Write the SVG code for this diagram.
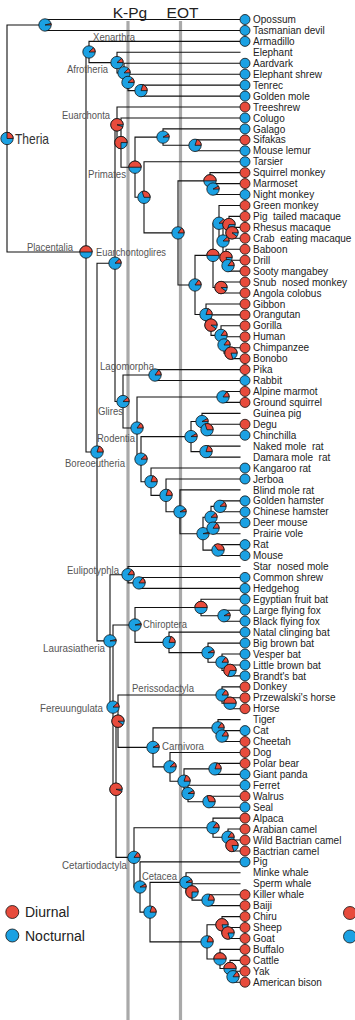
<svg xmlns="http://www.w3.org/2000/svg" width="355" height="1020" viewBox="0 0 355 1020">
<style>
.e{stroke:#a9a9a9;stroke-width:3.2;fill:none}
.c{fill:none;stroke:#111;stroke-width:1.1;stroke-linecap:square}
.pb{fill:#1ba1e3;stroke:#111;stroke-width:.8}
.pr{fill:#e74b3c;stroke:#111;stroke-width:.8;stroke-linejoin:round}
.r{fill:#e74b3c;stroke:#111;stroke-width:.8}
.b{fill:#1ba1e3;stroke:#111;stroke-width:.8}
text{font-family:"Liberation Sans",Arial,sans-serif}
.tips text{font-size:10px;fill:#222}
.cl{font-size:11px;fill:#555}
.big{font-size:15.5px;fill:#222}
.leg{font-size:14px;fill:#222}
</style>
<defs>
<g id="p04"><circle class="pb" r="6.2"/><path class="pr" d="M0 0H6.2A6.2 6.2 0 0 0 6.005 -1.542Z"/></g>
<g id="p08"><circle class="pb" r="6.2"/><path class="pr" d="M0 0H6.2A6.2 6.2 0 0 0 5.433 -2.987Z"/></g>
<g id="p12"><circle class="pb" r="6.2"/><path class="pr" d="M0 0H6.2A6.2 6.2 0 0 0 4.52 -4.244Z"/></g>
<g id="p15"><circle class="pb" r="6.2"/><path class="pr" d="M0 0H6.2A6.2 6.2 0 0 0 3.644 -5.016Z"/></g>
<g id="p20"><circle class="pb" r="6.2"/><path class="pr" d="M0 0H6.2A6.2 6.2 0 0 0 1.916 -5.897Z"/></g>
<g id="p25"><circle class="pb" r="6.2"/><path class="pr" d="M0 0H6.2A6.2 6.2 0 0 0 0 -6.2Z"/></g>
<g id="p30"><circle class="pb" r="6.2"/><path class="pr" d="M0 0H6.2A6.2 6.2 0 0 0 -1.916 -5.897Z"/></g>
<g id="p35"><circle class="pb" r="6.2"/><path class="pr" d="M0 0H6.2A6.2 6.2 0 0 0 -3.644 -5.016Z"/></g>
<g id="p50"><circle class="pb" r="6.2"/><path class="pr" d="M0 0H6.2A6.2 6.2 0 0 0 -6.2 0Z"/></g>
<g id="p70"><circle class="pb" r="6.2"/><path class="pr" d="M0 0H6.2A6.2 6.2 0 1 0 -1.916 5.897Z"/></g>
<g id="p75"><circle class="pb" r="6.2"/><path class="pr" d="M0 0H6.2A6.2 6.2 0 1 0 0 6.2Z"/></g>
<g id="p80"><circle class="pb" r="6.2"/><path class="pr" d="M0 0H6.2A6.2 6.2 0 1 0 1.916 5.897Z"/></g>
<g id="p90"><circle class="pb" r="6.2"/><path class="pr" d="M0 0H6.2A6.2 6.2 0 1 0 5.016 3.644Z"/></g>
<g id="p95"><circle class="pb" r="6.2"/><path class="pr" d="M0 0H6.2A6.2 6.2 0 1 0 5.897 1.916Z"/></g>
</defs>
<rect width="355" height="1020" fill="#fff"/>
<g id="epochs">
<line class="e" x1="128" y1="21" x2="128" y2="1020"/>
<line class="e" x1="180.5" y1="21" x2="180.5" y2="1020"/>
<text class="big" x="130" y="18" text-anchor="middle">K-Pg</text>
<text class="big" x="182.5" y="18" text-anchor="middle">EOT</text>
</g>
<g id="connectors">
<path class="c" d="M7 24.97V252.01M7 24.97H45M7 252.01H86
M45 19.5V30.44M45 19.5H240M45 30.44H240
M86 51.98V452.05M86 51.98H89M86 452.05H97
M89 41.38V62.58M89 41.38H240M89 62.58H117
M117 52.32V72.84M117 52.32H240M117 72.84H124
M124 63.26V82.41M124 63.26H240M124 82.41H128
M128 74.2V90.61M128 74.2H240M128 90.61H141
M141 85.14V96.08M141 85.14H240M141 96.08H240
M97 263.18V640.92M97 263.18H115M97 640.92H110
M115 124.81V401.55M115 124.81H117M115 401.55H123
M117 107.02V142.59M117 107.02H240M117 142.59H121
M121 117.96V167.22M121 117.96H240M121 167.22H135
M135 137.11V197.32M135 137.11H163M135 197.32H144
M163 128.9V145.31M163 128.9H240M163 145.31H195
M195 139.84V150.78M195 139.84H240M195 150.78H240
M144 161.72V232.92M144 161.72H240M144 232.92H178
M178 180.87V284.97M178 180.87H210M178 284.97H195
M210 172.66V189.07M210 172.66H240M210 189.07H213
M213 183.6V194.54M213 183.6H240M213 194.54H240
M195 255.39V314.54M195 255.39H213M195 314.54H206
M213 223.26V287.53M213 223.26H219M213 287.53H221
M219 205.48V241.03M219 205.48H240M219 241.03H223
M223 224.62V257.45M223 224.62H229M223 257.45H226
M229 216.42V232.83M229 216.42H240M229 232.83H232
M232 227.36V238.3M232 227.36H240M232 238.3H240
M226 249.24V265.65M226 249.24H240M226 265.65H228
M228 260.18V271.12M228 260.18H240M228 271.12H240
M221 282.06V293M221 282.06H240M221 293H240
M206 303.94V325.14M206 303.94H240M206 325.14H211
M211 314.88V335.39M211 314.88H240M211 335.39H221
M221 325.82V344.97M221 325.82H240M221 344.97H224
M224 336.76V353.17M224 336.76H240M224 353.17H231
M231 347.7V358.64M231 347.7H240M231 358.64H240
M123 375.05V428.05M123 375.05H155M123 428.05H137
M155 369.58V380.52M155 369.58H240M155 380.52H240
M137 396.93V459.16M137 396.93H223M137 459.16H141
M223 391.46V402.4M223 391.46H240M223 402.4H240
M141 436.59V481.72M141 436.59H191M141 481.72H151
M191 421.55V451.63M191 421.55H202M191 451.63H206
M202 413.34V429.75M202 413.34H240M202 429.75H207
M207 424.28V435.22M207 424.28H240M207 435.22H240
M206 446.16V457.1M206 446.16H240M206 457.1H240
M151 468.04V495.39M151 468.04H240M151 495.39H166
M166 478.98V511.8M166 478.98H240M166 511.8H180
M180 489.92V533.68M180 489.92H240M180 533.68H203
M203 517.27V550.09M203 517.27H211M203 550.09H218
M211 506.33V528.21M211 506.33H220M211 528.21H213
M220 500.86V511.8M220 500.86H240M220 511.8H240
M213 522.74V533.68M213 522.74H240M213 533.68H240
M218 544.62V555.56M218 544.62H240M218 555.56H240
M110 574.71V707.12M110 574.71H128M110 707.12H113
M128 566.5V582.91M128 566.5H240M128 582.91H139
M139 577.44V588.38M139 577.44H240M139 588.38H240
M113 624.97V789.28M113 624.97H135M113 789.28H116
M135 607.53V642.4M135 607.53H201M135 642.4H169
M201 599.32V615.73M201 599.32H240M201 615.73H224
M224 610.26V621.2M224 610.26H240M224 621.2H240
M169 632.14V652.66M169 632.14H240M169 652.66H208
M208 643.08V662.23M208 643.08H240M208 662.23H222
M222 654.02V670.43M222 654.02H240M222 670.43H230
M230 664.96V675.9M230 664.96H240M230 675.9H240
M116 721.2V857.35M116 721.2H118M116 857.35H134
M118 695.05V747.36M118 695.05H222M118 747.36H153
M222 686.84V703.25M222 686.84H240M222 703.25H230
M230 697.78V708.72M230 697.78H240M230 708.72H240
M153 727.87V766.84M153 727.87H218M153 766.84H170
M218 719.66V736.07M218 719.66H240M218 736.07H222
M222 730.6V741.54M222 730.6H240M222 741.54H240
M170 752.48V781.2M170 752.48H240M170 781.2H184
M184 768.89V793.51M184 768.89H215M184 793.51H188
M215 763.42V774.36M215 763.42H240M215 774.36H240
M188 785.3V801.71M188 785.3H240M188 801.71H209
M209 796.24V807.18M209 796.24H240M209 807.18H240
M134 827.69V887M134 827.69H213M134 887H140
M213 818.12V837.27M213 818.12H240M213 837.27H228
M228 829.06V845.47M228 829.06H240M228 845.47H232
M232 840V850.94M232 840H240M232 850.94H240
M140 861.88V912.13M140 861.88H240M140 912.13H150
M150 882.39V941.88M150 882.39H186M150 941.88H207
M186 872.82V891.97M186 872.82H240M186 891.97H192
M192 883.76V900.17M192 883.76H240M192 900.17H208
M208 894.7V905.64M208 894.7H240M208 905.64H240
M207 924.78V958.97M207 924.78H222M207 958.97H220
M222 916.58V932.99M222 916.58H240M222 932.99H228
M228 927.52V938.46M228 927.52H240M228 938.46H240
M220 949.4V968.55M220 949.4H240M220 968.55H230
M230 960.34V976.75M230 960.34H240M230 976.75H233
M233 971.28V982.22M233 971.28H240M233 982.22H240"/>
</g>
<g id="nodes">
<g id="n-theria"><use href="#p25" x="7" y="138.49"/><text x="15" y="144" font-size="15" fill="#333" textLength="34" lengthAdjust="spacingAndGlyphs">Theria</text></g>
<g id="n-marsupialia"><use href="#p04" x="45" y="24.97"/></g>
<g id="n-placentalia"><use href="#p50" x="86" y="252.01"/><text class="cl" x="27" y="251" textLength="46" lengthAdjust="spacingAndGlyphs">Placentalia</text></g>
<g id="n-atlantogenata"><use href="#p12" x="89" y="51.98"/><text class="cl" x="93" y="40.5" textLength="42" lengthAdjust="spacingAndGlyphs">Xenarthra</text></g>
<g id="n-afrotheria"><use href="#p12" x="117" y="62.58"/><text class="cl" x="67" y="73" textLength="41" lengthAdjust="spacingAndGlyphs">Afrotheria</text></g>
<g id="n-afro2"><use href="#p12" x="124" y="72.84"/></g>
<g id="n-afro3"><use href="#p12" x="128" y="82.41"/></g>
<g id="n-afro4"><use href="#p20" x="141" y="90.61"/></g>
<g id="n-boreoeutheria"><use href="#p20" x="97" y="452.05"/><text class="cl" x="65" y="466.5" textLength="60" lengthAdjust="spacingAndGlyphs">Boreoeutheria</text></g>
<g id="n-euarchontoglires"><use href="#p12" x="115" y="263.18"/><text class="cl" x="96" y="256" textLength="70" lengthAdjust="spacingAndGlyphs">Euarchontoglires</text></g>
<g id="n-euarchonta"><use href="#p95" x="117" y="124.81"/><text class="cl" x="62" y="119" textLength="48" lengthAdjust="spacingAndGlyphs">Euarchonta</text></g>
<g id="n-primatomorpha"><use href="#p75" x="121" y="142.59"/></g>
<g id="n-primates"><use href="#p50" x="135" y="167.22"/><text class="cl" x="88" y="178" textLength="38" lengthAdjust="spacingAndGlyphs">Primates</text></g>
<g id="n-strepsirrhini"><use href="#p08" x="163" y="137.11"/></g>
<g id="n-lemuriformes"><use href="#p20" x="195" y="145.31"/></g>
<g id="n-haplorhini"><use href="#p30" x="144" y="197.32"/></g>
<g id="n-anthropoidea"><use href="#p15" x="178" y="232.92"/></g>
<g id="n-platyrrhini"><use href="#p50" x="210" y="180.87"/></g>
<g id="n-platy2"><use href="#p08" x="213" y="189.07"/></g>
<g id="n-catarrhini"><use href="#p15" x="195" y="284.97"/></g>
<g id="n-cercopithecidae"><use href="#p50" x="213" y="255.39"/></g>
<g id="n-cercopithecinae"><use href="#p12" x="219" y="223.26"/></g>
<g id="n-papionini"><use href="#p12" x="223" y="241.03"/></g>
<g id="n-macaca"><use href="#p70" x="229" y="224.62"/></g>
<g id="n-macaca2"><use href="#p90" x="232" y="232.83"/></g>
<g id="n-papio"><use href="#p80" x="226" y="257.45"/></g>
<g id="n-drill-sooty"><use href="#p15" x="228" y="265.65"/></g>
<g id="n-colobinae"><use href="#p90" x="221" y="287.53"/></g>
<g id="n-hominoidea"><use href="#p20" x="206" y="314.54"/></g>
<g id="n-hominidae"><use href="#p90" x="211" y="325.14"/></g>
<g id="n-homininae"><use href="#p15" x="221" y="335.39"/></g>
<g id="n-hominini"><use href="#p15" x="224" y="344.97"/></g>
<g id="n-pan"><use href="#p80" x="231" y="353.17"/></g>
<g id="n-glires"><use href="#p12" x="123" y="401.55"/><text class="cl" x="98" y="415" textLength="25" lengthAdjust="spacingAndGlyphs">Glires</text></g>
<g id="n-lagomorpha"><use href="#p15" x="155" y="375.05"/><text class="cl" x="100" y="370" textLength="54" lengthAdjust="spacingAndGlyphs">Lagomorpha</text></g>
<g id="n-rodentia"><use href="#p15" x="137" y="428.05"/><text class="cl" x="97" y="441.5" textLength="38" lengthAdjust="spacingAndGlyphs">Rodentia</text></g>
<g id="n-sciuridae"><use href="#p15" x="223" y="396.93"/></g>
<g id="n-rod2"><use href="#p12" x="141" y="459.16"/></g>
<g id="n-hystricomorpha"><use href="#p08" x="191" y="436.59"/></g>
<g id="n-caviomorpha"><use href="#p08" x="202" y="421.55"/></g>
<g id="n-degu-chinchilla"><use href="#p30" x="207" y="429.75"/></g>
<g id="n-bathyergidae"><use href="#p20" x="206" y="451.63"/></g>
<g id="n-rod3"><use href="#p20" x="151" y="481.72"/></g>
<g id="n-rod4"><use href="#p20" x="166" y="495.39"/></g>
<g id="n-rod5"><use href="#p08" x="180" y="511.8"/></g>
<g id="n-muroidea"><use href="#p04" x="203" y="533.68"/></g>
<g id="n-cricetidae"><use href="#p12" x="211" y="517.27"/></g>
<g id="n-cricetinae"><use href="#p12" x="220" y="506.33"/></g>
<g id="n-deermouse-vole"><use href="#p15" x="213" y="528.21"/></g>
<g id="n-muridae"><use href="#p35" x="218" y="550.09"/></g>
<g id="n-laurasiatheria"><use href="#p04" x="110" y="640.92"/><text class="cl" x="43" y="651.5" textLength="62" lengthAdjust="spacingAndGlyphs">Laurasiatheria</text></g>
<g id="n-eulipotyphla"><use href="#p15" x="128" y="574.71"/><text class="cl" x="67" y="573.5" textLength="52" lengthAdjust="spacingAndGlyphs">Eulipotyphla</text></g>
<g id="n-shrew-hedgehog"><use href="#p15" x="139" y="582.91"/></g>
<g id="n-scrotifera"><use href="#p12" x="113" y="707.12"/><text class="cl" x="40" y="711.5" textLength="63" lengthAdjust="spacingAndGlyphs">Fereuungulata</text></g>
<g id="n-chiroptera"><use href="#p04" x="135" y="624.97"/><text class="cl" x="143" y="627.5" textLength="44" lengthAdjust="spacingAndGlyphs">Chiroptera</text></g>
<g id="n-pteropodidae"><use href="#p50" x="201" y="607.53"/></g>
<g id="n-pteropus"><use href="#p08" x="224" y="615.73"/></g>
<g id="n-yangochiroptera"><use href="#p20" x="169" y="642.4"/></g>
<g id="n-vesper1"><use href="#p08" x="208" y="652.66"/></g>
<g id="n-vesper2"><use href="#p15" x="222" y="662.23"/></g>
<g id="n-myotis"><use href="#p70" x="230" y="670.43"/></g>
<g id="n-fereuungulata"><use href="#p95" x="116" y="789.28"/></g>
<g id="n-zooamata"><use href="#p90" x="118" y="721.2"/></g>
<g id="n-perissodactyla"><use href="#p15" x="222" y="695.05"/><text class="cl" x="132" y="692" textLength="62" lengthAdjust="spacingAndGlyphs">Perissodactyla</text></g>
<g id="n-equus"><use href="#p50" x="230" y="703.25"/></g>
<g id="n-carnivora"><use href="#p08" x="153" y="747.36"/><text class="cl" x="162" y="750" textLength="42" lengthAdjust="spacingAndGlyphs">Carnivora</text></g>
<g id="n-felidae"><use href="#p15" x="218" y="727.87"/></g>
<g id="n-cat-cheetah"><use href="#p15" x="222" y="736.07"/></g>
<g id="n-caniformia"><use href="#p12" x="170" y="766.84"/></g>
<g id="n-arctoidea"><use href="#p20" x="184" y="781.2"/></g>
<g id="n-ursidae"><use href="#p20" x="215" y="768.89"/></g>
<g id="n-musteloidea"><use href="#p08" x="188" y="793.51"/></g>
<g id="n-pinnipedia"><use href="#p30" x="209" y="801.71"/></g>
<g id="n-cetartiodactyla"><use href="#p15" x="134" y="857.35"/><text class="cl" x="62" y="868.5" textLength="65" lengthAdjust="spacingAndGlyphs">Cetartiodactyla</text></g>
<g id="n-camelidae"><use href="#p15" x="213" y="827.69"/></g>
<g id="n-camel2"><use href="#p15" x="228" y="837.27"/></g>
<g id="n-camel3"><use href="#p80" x="232" y="845.47"/></g>
<g id="n-artiofabula"><use href="#p08" x="140" y="887"/></g>
<g id="n-cetruminantia"><use href="#p20" x="150" y="912.13"/></g>
<g id="n-cetacea"><use href="#p08" x="186" y="882.39"/><text class="cl" x="142" y="880" textLength="35" lengthAdjust="spacingAndGlyphs">Cetacea</text></g>
<g id="n-odontoceti"><use href="#p75" x="192" y="891.97"/></g>
<g id="n-killer-baiji"><use href="#p20" x="208" y="900.17"/></g>
<g id="n-bovidae"><use href="#p20" x="207" y="941.88"/></g>
<g id="n-caprinae"><use href="#p80" x="222" y="924.78"/></g>
<g id="n-sheep-goat"><use href="#p80" x="228" y="932.99"/></g>
<g id="n-bovinae"><use href="#p50" x="220" y="958.97"/></g>
<g id="n-bovini"><use href="#p50" x="230" y="968.55"/></g>
<g id="n-bison"><use href="#p15" x="233" y="976.75"/></g>
</g>
<g id="tips" class="tips">
<g id="t01"><circle class="b" cx="245" cy="19.5" r="5"/><text x="253" y="23.1">Opossum</text></g>
<g id="t02"><circle class="b" cx="245" cy="30.44" r="5"/><text x="253" y="34.04">Tasmanian devil</text></g>
<g id="t03"><circle class="b" cx="245" cy="41.38" r="5"/><text x="253" y="44.98">Armadillo</text></g>
<g id="t04"><text x="253" y="55.92">Elephant</text></g>
<g id="t05"><circle class="b" cx="245" cy="63.26" r="5"/><text x="253" y="66.86">Aardvark</text></g>
<g id="t06"><circle class="b" cx="245" cy="74.2" r="5"/><text x="253" y="77.8">Elephant shrew</text></g>
<g id="t07"><circle class="b" cx="245" cy="85.14" r="5"/><text x="253" y="88.74">Tenrec</text></g>
<g id="t08"><circle class="b" cx="245" cy="96.08" r="5"/><text x="253" y="99.68">Golden mole</text></g>
<g id="t09"><circle class="r" cx="245" cy="107.02" r="5"/><text x="253" y="110.62">Treeshrew</text></g>
<g id="t10"><circle class="b" cx="245" cy="117.96" r="5"/><text x="253" y="121.56">Colugo</text></g>
<g id="t11"><circle class="b" cx="245" cy="128.9" r="5"/><text x="253" y="132.5">Galago</text></g>
<g id="t12"><circle class="r" cx="245" cy="139.84" r="5"/><text x="253" y="143.44">Sifakas</text></g>
<g id="t13"><circle class="b" cx="245" cy="150.78" r="5"/><text x="253" y="154.38">Mouse lemur</text></g>
<g id="t14"><circle class="b" cx="245" cy="161.72" r="5"/><text x="253" y="165.32">Tarsier</text></g>
<g id="t15"><circle class="r" cx="245" cy="172.66" r="5"/><text x="253" y="176.26">Squirrel monkey</text></g>
<g id="t16"><circle class="r" cx="245" cy="183.6" r="5"/><text x="253" y="187.2">Marmoset</text></g>
<g id="t17"><circle class="b" cx="245" cy="194.54" r="5"/><text x="253" y="198.14">Night monkey</text></g>
<g id="t18"><circle class="r" cx="245" cy="205.48" r="5"/><text x="253" y="209.08">Green monkey</text></g>
<g id="t19"><circle class="r" cx="245" cy="216.42" r="5"/><text x="253" y="220.02">Pig&#160; tailed macaque</text></g>
<g id="t20"><circle class="r" cx="245" cy="227.36" r="5"/><text x="253" y="230.96">Rhesus macaque</text></g>
<g id="t21"><circle class="r" cx="245" cy="238.3" r="5"/><text x="253" y="241.9">Crab&#160; eating macaque</text></g>
<g id="t22"><circle class="r" cx="245" cy="249.24" r="5"/><text x="253" y="252.84">Baboon</text></g>
<g id="t23"><circle class="r" cx="245" cy="260.18" r="5"/><text x="253" y="263.78">Drill</text></g>
<g id="t24"><circle class="r" cx="245" cy="271.12" r="5"/><text x="253" y="274.72">Sooty mangabey</text></g>
<g id="t25"><circle class="r" cx="245" cy="282.06" r="5"/><text x="253" y="285.66">Snub&#160; nosed monkey</text></g>
<g id="t26"><circle class="r" cx="245" cy="293" r="5"/><text x="253" y="296.6">Angola colobus</text></g>
<g id="t27"><circle class="r" cx="245" cy="303.94" r="5"/><text x="253" y="307.54">Gibbon</text></g>
<g id="t28"><circle class="r" cx="245" cy="314.88" r="5"/><text x="253" y="318.48">Orangutan</text></g>
<g id="t29"><circle class="r" cx="245" cy="325.82" r="5"/><text x="253" y="329.42">Gorilla</text></g>
<g id="t30"><circle class="r" cx="245" cy="336.76" r="5"/><text x="253" y="340.36">Human</text></g>
<g id="t31"><circle class="r" cx="245" cy="347.7" r="5"/><text x="253" y="351.3">Chimpanzee</text></g>
<g id="t32"><circle class="r" cx="245" cy="358.64" r="5"/><text x="253" y="362.24">Bonobo</text></g>
<g id="t33"><circle class="r" cx="245" cy="369.58" r="5"/><text x="253" y="373.18">Pika</text></g>
<g id="t34"><circle class="b" cx="245" cy="380.52" r="5"/><text x="253" y="384.12">Rabbit</text></g>
<g id="t35"><circle class="r" cx="245" cy="391.46" r="5"/><text x="253" y="395.06">Alpine marmot</text></g>
<g id="t36"><circle class="r" cx="245" cy="402.4" r="5"/><text x="253" y="406">Ground squirrel</text></g>
<g id="t37"><text x="253" y="416.94">Guinea pig</text></g>
<g id="t38"><circle class="r" cx="245" cy="424.28" r="5"/><text x="253" y="427.88">Degu</text></g>
<g id="t39"><circle class="b" cx="245" cy="435.22" r="5"/><text x="253" y="438.82">Chinchilla</text></g>
<g id="t40"><text x="253" y="449.76">Naked mole&#160; rat</text></g>
<g id="t41"><text x="253" y="460.7">Damara mole&#160; rat</text></g>
<g id="t42"><circle class="b" cx="245" cy="468.04" r="5"/><text x="253" y="471.64">Kangaroo rat</text></g>
<g id="t43"><circle class="b" cx="245" cy="478.98" r="5"/><text x="253" y="482.58">Jerboa</text></g>
<g id="t44"><text x="253" y="493.52">Blind mole rat</text></g>
<g id="t45"><circle class="b" cx="245" cy="500.86" r="5"/><text x="253" y="504.46">Golden hamster</text></g>
<g id="t46"><circle class="b" cx="245" cy="511.8" r="5"/><text x="253" y="515.4">Chinese hamster</text></g>
<g id="t47"><circle class="b" cx="245" cy="522.74" r="5"/><text x="253" y="526.34">Deer mouse</text></g>
<g id="t48"><text x="253" y="537.28">Prairie vole</text></g>
<g id="t49"><circle class="b" cx="245" cy="544.62" r="5"/><text x="253" y="548.22">Rat</text></g>
<g id="t50"><circle class="b" cx="245" cy="555.56" r="5"/><text x="253" y="559.16">Mouse</text></g>
<g id="t51"><text x="253" y="570.1">Star&#160; nosed mole</text></g>
<g id="t52"><circle class="b" cx="245" cy="577.44" r="5"/><text x="253" y="581.04">Common shrew</text></g>
<g id="t53"><circle class="b" cx="245" cy="588.38" r="5"/><text x="253" y="591.98">Hedgehog</text></g>
<g id="t54"><circle class="b" cx="245" cy="599.32" r="5"/><text x="253" y="602.92">Egyptian fruit bat</text></g>
<g id="t55"><circle class="b" cx="245" cy="610.26" r="5"/><text x="253" y="613.86">Large flying fox</text></g>
<g id="t56"><circle class="b" cx="245" cy="621.2" r="5"/><text x="253" y="624.8">Black flying fox</text></g>
<g id="t57"><circle class="b" cx="245" cy="632.14" r="5"/><text x="253" y="635.74">Natal clinging bat</text></g>
<g id="t58"><circle class="b" cx="245" cy="643.08" r="5"/><text x="253" y="646.68">Big brown bat</text></g>
<g id="t59"><circle class="b" cx="245" cy="654.02" r="5"/><text x="253" y="657.62">Vesper bat</text></g>
<g id="t60"><circle class="b" cx="245" cy="664.96" r="5"/><text x="253" y="668.56">Little brown bat</text></g>
<g id="t61"><circle class="b" cx="245" cy="675.9" r="5"/><text x="253" y="679.5">Brandt's bat</text></g>
<g id="t62"><circle class="r" cx="245" cy="686.84" r="5"/><text x="253" y="690.44">Donkey</text></g>
<g id="t63"><circle class="r" cx="245" cy="697.78" r="5"/><text x="253" y="701.38">Przewalski's horse</text></g>
<g id="t64"><circle class="r" cx="245" cy="708.72" r="5"/><text x="253" y="712.32">Horse</text></g>
<g id="t65"><text x="253" y="723.26">Tiger</text></g>
<g id="t66"><circle class="b" cx="245" cy="730.6" r="5"/><text x="253" y="734.2">Cat</text></g>
<g id="t67"><circle class="r" cx="245" cy="741.54" r="5"/><text x="253" y="745.14">Cheetah</text></g>
<g id="t68"><circle class="r" cx="245" cy="752.48" r="5"/><text x="253" y="756.08">Dog</text></g>
<g id="t69"><circle class="r" cx="245" cy="763.42" r="5"/><text x="253" y="767.02">Polar bear</text></g>
<g id="t70"><circle class="b" cx="245" cy="774.36" r="5"/><text x="253" y="777.96">Giant panda</text></g>
<g id="t71"><circle class="b" cx="245" cy="785.3" r="5"/><text x="253" y="788.9">Ferret</text></g>
<g id="t72"><circle class="r" cx="245" cy="796.24" r="5"/><text x="253" y="799.84">Walrus</text></g>
<g id="t73"><circle class="b" cx="245" cy="807.18" r="5"/><text x="253" y="810.78">Seal</text></g>
<g id="t74"><circle class="r" cx="245" cy="818.12" r="5"/><text x="253" y="821.72">Alpaca</text></g>
<g id="t75"><circle class="r" cx="245" cy="829.06" r="5"/><text x="253" y="832.66">Arabian camel</text></g>
<g id="t76"><circle class="r" cx="245" cy="840" r="5"/><text x="253" y="843.6">Wild Bactrian camel</text></g>
<g id="t77"><circle class="r" cx="245" cy="850.94" r="5"/><text x="253" y="854.54">Bactrian camel</text></g>
<g id="t78"><circle class="b" cx="245" cy="861.88" r="5"/><text x="253" y="865.48">Pig</text></g>
<g id="t79"><text x="253" y="876.42">Minke whale</text></g>
<g id="t80"><text x="253" y="887.36">Sperm whale</text></g>
<g id="t81"><circle class="r" cx="245" cy="894.7" r="5"/><text x="253" y="898.3">Killer whale</text></g>
<g id="t82"><circle class="r" cx="245" cy="905.64" r="5"/><text x="253" y="909.24">Baiji</text></g>
<g id="t83"><circle class="r" cx="245" cy="916.58" r="5"/><text x="253" y="920.18">Chiru</text></g>
<g id="t84"><circle class="r" cx="245" cy="927.52" r="5"/><text x="253" y="931.12">Sheep</text></g>
<g id="t85"><circle class="r" cx="245" cy="938.46" r="5"/><text x="253" y="942.06">Goat</text></g>
<g id="t86"><circle class="r" cx="245" cy="949.4" r="5"/><text x="253" y="953">Buffalo</text></g>
<g id="t87"><circle class="r" cx="245" cy="960.34" r="5"/><text x="253" y="963.94">Cattle</text></g>
<g id="t88"><circle class="r" cx="245" cy="971.28" r="5"/><text x="253" y="974.88">Yak</text></g>
<g id="t89"><circle class="r" cx="245" cy="982.22" r="5"/><text x="253" y="985.82">American bison</text></g>
</g>
<g id="legend">
<circle class="r" cx="12.3" cy="912" r="6.5"/>
<text class="leg" x="25" y="917">Diurnal</text>
<circle class="b" cx="12.3" cy="935.5" r="6.5"/>
<text class="leg" x="25" y="940.5">Nocturnal</text>
</g>
<g id="legend-right">
<circle class="r" cx="350" cy="913" r="6.5"/>
<circle class="b" cx="350" cy="936.5" r="6.5"/>
</g>
</svg>
